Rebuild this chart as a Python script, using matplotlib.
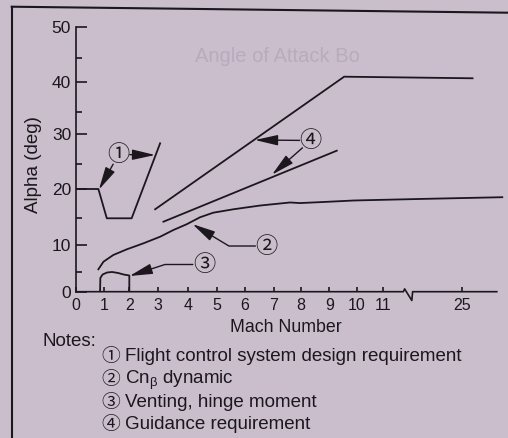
import numpy as np
import matplotlib
matplotlib.use('Agg')
import matplotlib.pyplot as plt
from matplotlib.lines import Line2D

plt.rcParams['font.family'] = ['Liberation Sans', 'Noto Sans CJK SC', 'DejaVu Sans']

# (1) flight control system design requirement
fcs_mach = [0, 0.79, 1.1, 2.08, 3.06]
fcs_alpha = [20, 20, 15, 15, 28.5]

# (2) Cn-beta dynamic
cnb_mach = [0.79, 0.97, 1.36, 1.9, 2.48, 3.06, 3.5, 3.95, 4.41, 4.88, 5.59,
            6.52, 7.6, 7.97, 8.78, 9.9, 14.9, 34.8]
cnb_alpha = [5.45, 6.87, 8.13, 9.19, 10.3, 11.55, 12.8, 13.9, 15.17, 15.96,
             16.54, 17.18, 17.7, 17.6, 17.78, 18.04, 18.3, 18.6]

# (3) venting, hinge moment
vent_mach = [0.85, 0.86, 0.94, 1.11, 1.31, 1.55, 1.77, 2.0, 2.0]
vent_alpha = [0, 3.43, 4.3, 4.8, 4.93, 4.68, 4.3, 4.05, 0]

# (4) guidance requirement, upper and lower bound
guid_hi_mach = [2.89, 9.54, 27.6]
guid_hi_alpha = [16.54, 41.07, 40.73]
guid_lo_mach = [3.17, 9.27]
guid_lo_alpha = [14.36, 27.27]

xticks = [0, 1, 2, 3, 4, 5, 6, 7, 8, 9, 10, 11, 25]
xticklabels = ['0', '1', '2', '3', '4', '5', '6', '7', '8', '9', '10', '11', '25']
yticks = [0, 10, 20, 30, 40, 50]

circled = ['①', '②', '③', '④']
notes = ['Flight control system design requirement',
         r'Cn$_{\mathregular{β}}$ dynamic',
         'Venting, hinge moment',
         'Guidance requirement']

# hand drawn axes: uneven tick spacing and a broken Mach axis past 11
mach_ref = [-5, 0, 1, 2, 3, 4, 5, 6, 7, 8, 9, 10, 11, 12, 25, 45]
mach_pos = [-65.5, 76, 104.3, 129.3, 158.3, 188.3, 216.7, 245, 274, 300.7,
            329.3, 356.7, 383.3, 408, 461.7, 544.3]
alpha_ref = [-10, 0, 5, 10, 15, 20, 25, 30, 35, 40, 45, 50, 60]
alpha_pos = [-331.7, -291.7, -271.7, -245, -218.3, -189, -164.3, -134.3,
             -111.7, -81.7, -58.3, -26.7, 33.3]


def mach_fwd(m):
    return np.interp(m, mach_ref, mach_pos)


def mach_inv(p):
    return np.interp(p, mach_pos, mach_ref)


def alpha_fwd(a):
    return np.interp(a, alpha_ref, alpha_pos)


def alpha_inv(p):
    return np.interp(p, alpha_pos, alpha_ref)


bg = '#cabecd'
ink = '#1b171d'
W, H = 508, 438


def fx(x):
    return x / W


def fy(y):
    return 1 - y / H


fig = plt.figure(figsize=(W / 100, H / 100), dpi=100)
fig.patch.set_facecolor(bg)

# faint show-through from the other side of the sheet
fig.text(fx(195), fy(57), 'Angle of Attack Bo', ha='left', va='center',
         fontsize=14.5, color='#b8abbb')

ax = fig.add_axes([fx(76), fy(291.7), fx(506 - 76), (291.7 - 26.7) / H])
ax.set_facecolor('none')
ax.set_xscale('function', functions=(mach_fwd, mach_inv))
ax.set_yscale('function', functions=(alpha_fwd, alpha_inv))
ax.set_xlim(0, 35.7)
ax.set_ylim(0, 50)

for s in ['top', 'right', 'bottom']:
    ax.spines[s].set_visible(False)
ax.spines['left'].set_linewidth(1.2)
ax.spines['left'].set_color(ink)

ax.set_xticks(xticks)
ax.set_xticklabels(xticklabels)
ax.set_yticks(yticks)
ax.set_yticks([5, 15, 25, 35, 45], minor=True)
ax.xaxis.set_minor_locator(matplotlib.ticker.NullLocator())
ax.yaxis.set_minor_formatter(matplotlib.ticker.NullFormatter())
ax.tick_params(axis='y', which='major', direction='in', length=7.9, width=1.2,
               color=ink, labelsize=12.5, labelcolor=ink, pad=3.5)
ax.tick_params(axis='y', which='minor', direction='in', length=4.3, width=1.2,
               color=ink)
ax.tick_params(axis='x', which='major', direction='in', length=3.6, width=1.2,
               color=ink, labelsize=11.5, labelcolor=ink, pad=4.5)

# x axis line with the break mark
ax.plot([0, 11.81, 11.86, 12.9, 13.1, 33.47], [0, 0, 0.7, -2.2, 0, 0],
        color=ink, lw=1.2, clip_on=False)

lw = 1.3
ax.plot(fcs_mach, fcs_alpha, color=ink, lw=lw)
ax.plot(cnb_mach, cnb_alpha, color=ink, lw=lw)
ax.plot(vent_mach, vent_alpha, color=ink, lw=lw)
ax.plot(guid_hi_mach, guid_hi_alpha, color=ink, lw=lw)
ax.plot(guid_lo_mach, guid_lo_alpha, color=ink, lw=lw)

# callouts
circ_kw = dict(ha='center', va='center', fontsize=16, color=ink,
               family=['Noto Sans CJK SC'])
ax.text(1.57, 26.63, circled[0], **circ_kw)
ax.text(6.74, 9.81, circled[1], **circ_kw)
ax.text(4.55, 6.35, circled[2], **circ_kw)
ax.text(8.35, 28.97, circled[3], **circ_kw)

arrow = dict(arrowstyle='-|>,head_length=1.4,head_width=0.32', mutation_scale=10,
             color=ink, lw=1.0, shrinkA=8, shrinkB=0)
ax.annotate('', xy=(2.89, 26.55), xytext=(1.57, 26.63), arrowprops=arrow)
ax.annotate('', xy=(0.81, 19.9), xytext=(1.57, 26.63), arrowprops=arrow)
ax.annotate('', xy=(4.15, 13.9), xytext=(6.74, 9.81),
            arrowprops=dict(arrow, connectionstyle='angle,angleA=0,angleB=-31,rad=0'))
ax.annotate('', xy=(2.01, 3.93), xytext=(4.55, 6.35),
            arrowprops=dict(arrow, connectionstyle='angle,angleA=0,angleB=18,rad=0'))
ax.annotate('', xy=(6.34, 29.05), xytext=(8.35, 28.97), arrowprops=arrow)
ax.annotate('', xy=(6.93, 22.9), xytext=(8.35, 28.97), arrowprops=arrow)

# labels and notes
fig.text(fx(33), fy(165), 'Alpha (deg)', rotation=90, ha='center', va='center',
         fontsize=13.5, color=ink)
fig.text(fx(286), fy(327), 'Mach Number', ha='center', va='center',
         fontsize=12.8, color=ink)
fig.text(fx(43), fy(342), 'Notes:', ha='left', va='center', fontsize=13.5,
         color=ink)
rows = [356.3, 379.8, 402.5, 424.8]
for c, t, y in zip(circled, notes, rows):
    fig.text(fx(111), fy(y), c, ha='center', va='center', fontsize=13.5,
             color=ink, family=['Noto Sans CJK SC'])
    fig.text(fx(125), fy(y), t, ha='left', va='center', fontsize=13.5,
             color=ink)

# page frame
fig.add_artist(Line2D([fx(11.7), fx(11.7)], [fy(6.7), 0], color=ink, lw=1.5))
fig.add_artist(Line2D([fx(11.7), 1], [fy(6.7), fy(12.7)], color=ink, lw=1.5))

fig.savefig('out.png', dpi=100, facecolor=bg)
